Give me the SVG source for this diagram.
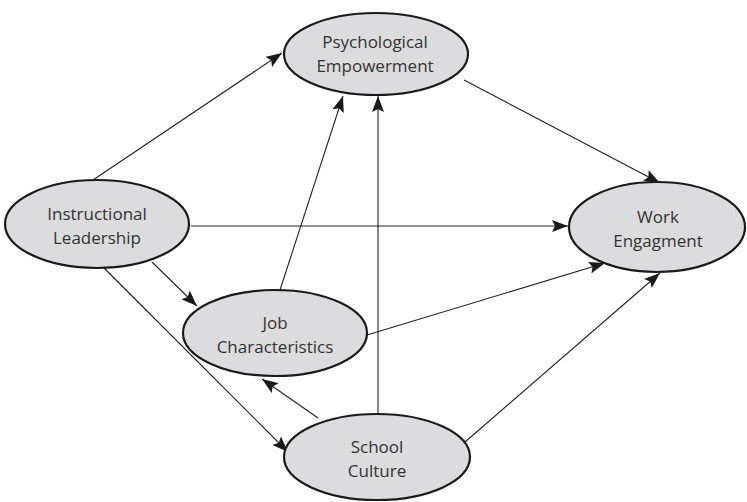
<svg xmlns="http://www.w3.org/2000/svg" width="747" height="502" viewBox="0 0 747 502">
<style>
.node ellipse{fill:#dcdcde;stroke:#1a1a1a;stroke-width:2.2}
.node text{font-family:"Open Sans","Liberation Sans",sans-serif;font-size:17px;fill:#333;text-anchor:middle}
.edges line{stroke:#222;stroke-width:1.1;marker-end:url(#ah)}
</style>
<defs>
<marker id="ah" markerUnits="userSpaceOnUse" markerWidth="18" markerHeight="12" refX="16" refY="6" orient="auto">
<path d="M0,0 L16,6 L0,12 L3,6 Z" fill="#1a1a1a"/>
</marker>
</defs>
<rect width="747" height="502" fill="#fff"/>
<g class="edges">
<line x1="93" y1="180" x2="282" y2="53"/>
<line x1="191" y1="226" x2="568" y2="226"/>
<line x1="152" y1="262" x2="197" y2="306"/>
<line x1="104" y1="268" x2="288" y2="452"/>
<line x1="280" y1="290" x2="343" y2="96"/>
<line x1="378" y1="414" x2="378" y2="96"/>
<line x1="318" y1="418" x2="262" y2="379"/>
<line x1="367" y1="335" x2="605" y2="263"/>
<line x1="465" y1="442" x2="660" y2="273"/>
<line x1="464" y1="80" x2="660" y2="183"/>
</g>
<g id="psychological-empowerment" class="node">
<ellipse cx="376" cy="54" rx="92" ry="41"/>
<text x="375" y="48">Psychological</text>
<text x="375" y="72">Empowerment</text>
</g>
<g id="instructional-leadership" class="node">
<ellipse cx="97" cy="224" rx="92" ry="44"/>
<text x="97" y="220">Instructional</text>
<text x="97" y="244">Leadership</text>
</g>
<g id="work-engagment" class="node">
<ellipse cx="657" cy="227" rx="88" ry="45"/>
<text x="658" y="223">Work</text>
<text x="658" y="247">Engagment</text>
</g>
<g id="job-characteristics" class="node">
<ellipse cx="275" cy="333" rx="92" ry="43"/>
<text x="275" y="329">Job</text>
<text x="275" y="353">Characteristics</text>
</g>
<g id="school-culture" class="node">
<ellipse cx="377" cy="457" rx="93" ry="43"/>
<text x="377" y="453">School</text>
<text x="377" y="477">Culture</text>
</g>
</svg>
